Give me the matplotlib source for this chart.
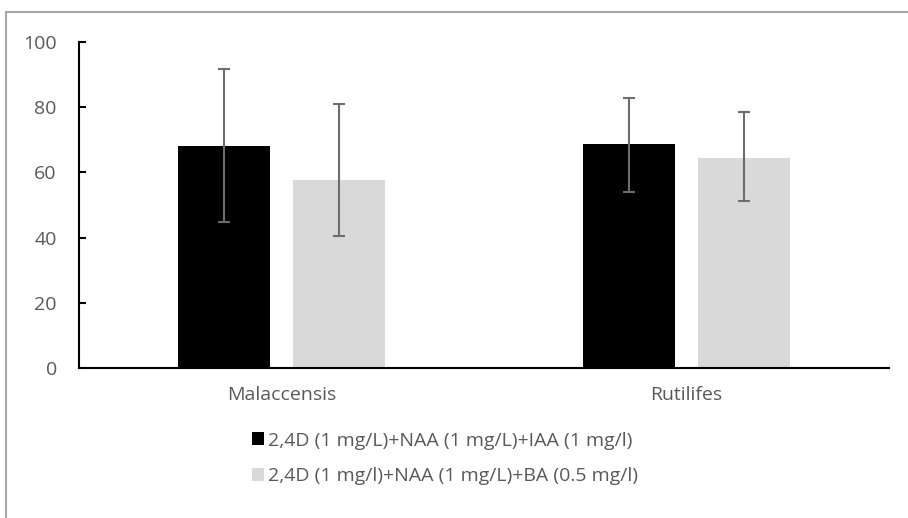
import matplotlib
matplotlib.use("Agg")
import matplotlib.pyplot as plt
from matplotlib.patches import Patch, Rectangle
import numpy as np

# values
categories = ["Malaccensis", "Rutilifes"]
series_labels = ["2,4D (1 mg/L)+NAA (1 mg/L)+IAA (1 mg/l)",
                 "2,4D (1 mg/l)+NAA (1 mg/L)+BA (0.5 mg/l)"]
series_a = [68.2, 68.6]
series_a_err_low = [23.5, 14.6]
series_a_err_high = [23.4, 14.1]
series_b = [57.7, 64.4]
series_b_err_low = [17.2, 13.1]
series_b_err_high = [23.3, 14.1]
y_ticks = [0, 20, 40, 60, 80, 100]

text_color = "#595959"
err_color = "#6d6d6d"
colors = ["#000000", "#d9d9d9"]

plt.rcParams["font.family"] = ["Open Sans", "DejaVu Sans"]

fig = plt.figure(figsize=(9.08, 5.18), dpi=100)
ax = fig.add_axes([79 / 908, 1 - 368 / 518, (889 - 79) / 908, (368 - 42) / 518])

x = np.arange(len(categories))
width = 0.227
offset = 0.141

ax.bar(x - offset, series_a, width, color=colors[0], zorder=2)
ax.bar(x + offset, series_b, width, color=colors[1], zorder=2)
ax.errorbar(x - offset, series_a, yerr=[series_a_err_low, series_a_err_high],
            fmt="none", ecolor=err_color, elinewidth=1.5, capsize=4.5, capthick=1.5, zorder=3)
ax.errorbar(x + offset, series_b, yerr=[series_b_err_low, series_b_err_high],
            fmt="none", ecolor=err_color, elinewidth=1.5, capsize=4.5, capthick=1.5, zorder=3)

ax.set_xlim(-0.5, 1.5)
ax.set_ylim(0, 100)
ax.set_yticks(y_ticks)
ax.set_xticks(x)
ax.set_xticklabels(categories)

for side in ["top", "right"]:
    ax.spines[side].set_visible(False)
for side in ["left", "bottom"]:
    ax.spines[side].set_color("black")
    ax.spines[side].set_linewidth(1.5)

ax.tick_params(axis="y", direction="in", length=5, width=1.5, color="black",
               labelsize=14, labelcolor=text_color, pad=16)
ax.tick_params(axis="x", length=0, labelsize=14, labelcolor=text_color, pad=13)

handles = [Patch(facecolor=c, edgecolor="none") for c in colors]
fig.legend(handles, series_labels, loc="center", bbox_to_anchor=(0.49, 0.115),
           frameon=False, ncol=1, fontsize=14, labelcolor=text_color,
           handlelength=0.65, handleheight=0.65, handletextpad=0.2, labelspacing=0.9)

# chart border (cropped on the right and bottom in the reference)
fig.add_artist(Rectangle((6 / 908, -0.1), 1.2, 1 - 12 / 518 + 0.1, transform=fig.transFigure,
                         fill=False, edgecolor="#a6a6a6", linewidth=1.5))

fig.savefig("out.png", dpi=100)
